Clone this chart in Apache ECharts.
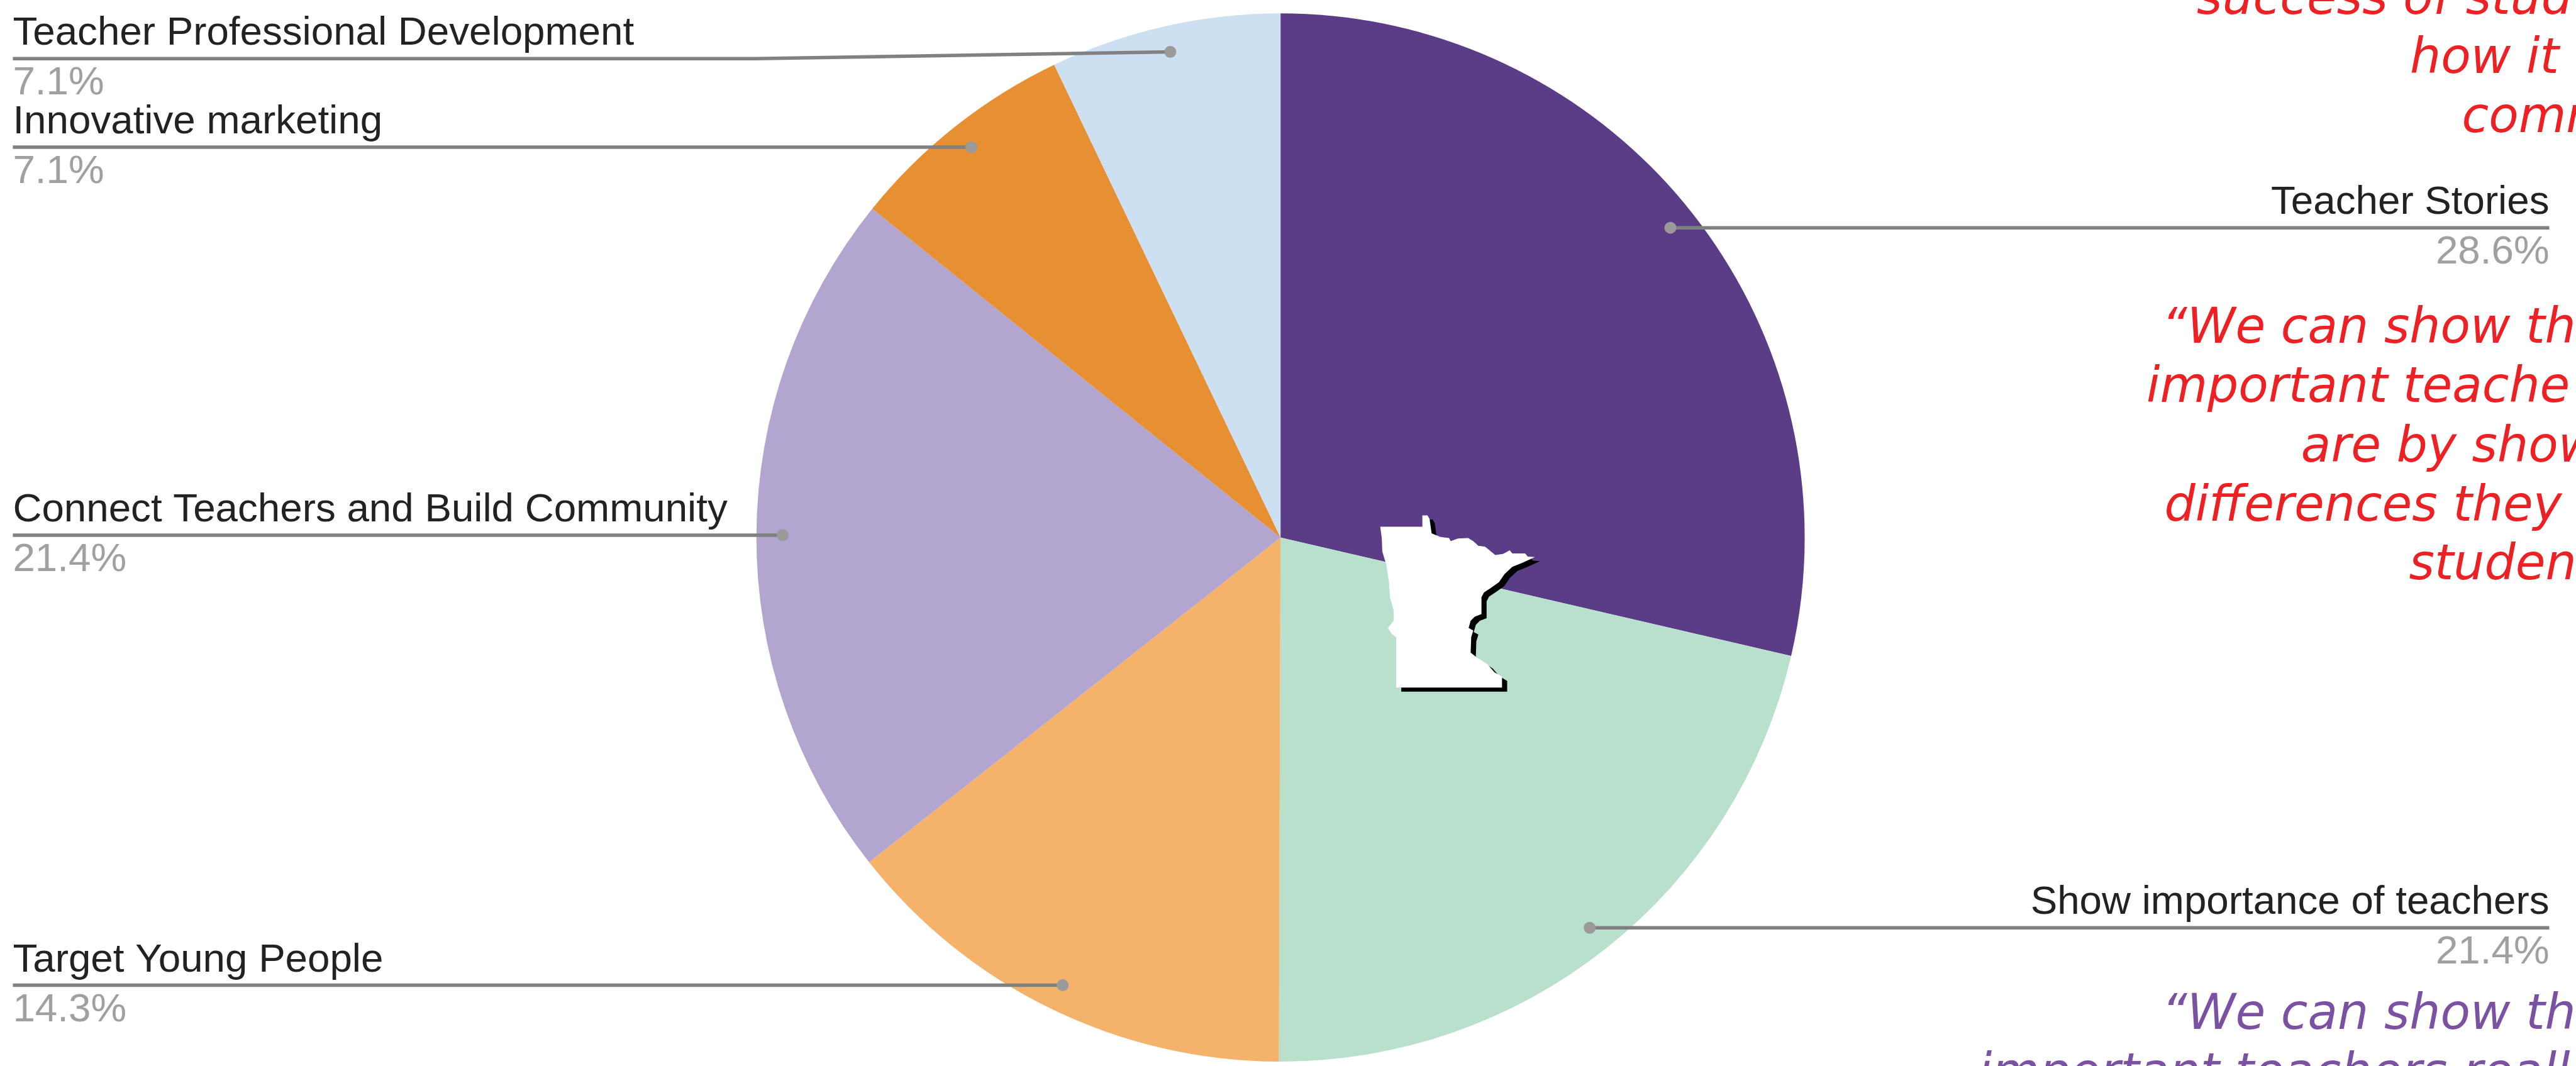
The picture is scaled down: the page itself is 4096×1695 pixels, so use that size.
<!DOCTYPE html>
<html>
<head>
<meta charset="utf-8">
<title>Pie</title>
<style>
  html, body { margin: 0; padding: 0; background: #fff; overflow: hidden; }
  #chart { width: 4096px; height: 1695px; }
</style>
<script src="https://cdn.jsdelivr.net/npm/echarts@6/dist/echarts.min.js"></script>
</head>
<body>
<div id="chart"></div>
<script>
// data, clockwise from 12 o'clock
const categories = [
  "Teacher Stories",
  "Show importance of teachers",
  "Target Young People",
  "Connect Teachers and Build Community",
  "Innovative marketing",
  "Teacher Professional Development",
];
const shares = [28.6, 21.4, 14.3, 21.4, 7.1, 7.1];
const sliceColors = ["#5b3d87", "#b8e0cd", "#f5b26b", "#b2a5d0", "#e69033", "#cde0f1"];

// quotes beside the chart, cut off by the page edge as in the source
const redQuote = [
  "success of stud", "how it i", "comm",
  "\u201CWe can show th", "important teache", "are by show", "differences they", "studen",
];
const purpleQuote = ["\u201CWe can show th", "important teachers reall"];

// everything below is measured on the 5013 wide reference, S scales it down
const S = 4096 / 5013;
const cx = 2492 * S, cy = 1046 * S, R = 1020 * S;
const dotRadius = 0.95 * R;
const leftX = 25 * S, rightX = 4961 * S;

const total = shares.reduce((a, b) => a + b, 0);
// dot sits on each slice's mid angle
let sum = 0;
const dots = shares.map((v) => {
  const a = ((sum + v / 2) / total) * Math.PI * 2;
  sum += v;
  return [cx + dotRadius * Math.sin(a), cy - dotRadius * Math.cos(a)];
});

// the top label had to bend to stay clear of the one under it
const bends = { 5: [1470 * S, 114 * S] };
const labelY = dots.map((d, i) => (bends[i] ? bends[i][1] : d[1]));
const labelX = dots.map((d) => (d[0] < cx ? leftX : rightX));

// Minnesota outline, traced in px on the reference
const mnOutline = [
  [2686,1025],[2768,1025],[2768,1003],[2778,1003],[2782,1010],[2786,1038],[2803,1045],[2820,1047],[2823,1053],
  [2837,1048],[2857,1047],[2867,1053],[2877,1062],[2890,1064],[2910,1080],[2925,1078],[2938,1071],[2943,1077],
  [2968,1077],[2973,1083],[2987,1084],[2963,1095],[2943,1103],[2928,1117],[2917,1133],[2900,1145],[2888,1153],
  [2883,1162],[2883,1195],[2870,1200],[2862,1208],[2858,1222],[2867,1227],[2863,1240],[2862,1270],[2872,1278],
  [2883,1285],[2895,1293],[2908,1308],[2923,1317],[2923,1338],[2717,1338],[2717,1240],[2708,1233],[2701,1222],
  [2712,1208],[2712,1187],[2705,1163],[2703,1133],[2698,1100],[2690,1073],[2689,1047],
];

const toPx = (pts, dx, dy) => pts.map((p) => [(p[0] + dx) * S, (p[1] + dy) * S]);

const quoteSize = 95 * S;
function quoteText(text, x, baseline, fill) {
  return {
    type: "text",
    silent: true,
    z: 110,
    style: {
      x: x * S,
      y: baseline * S - 0.346 * quoteSize,
      text: text,
      fill: fill,
      font: "italic 400 " + quoteSize + "px 'DejaVu Sans'",
      textAlign: "left",
      textVerticalAlign: "middle",
    },
  };
}

const redX = [4275, 4690, 4791, 4207, 4177, 4478, 4212, 4688];
const redY = [35, 150, 265, 675, 790, 906, 1021, 1136];
const purpleX = [4207, 3850];
const purpleY = [2010, 2125];

const chart = echarts.init(document.getElementById("chart"), null, { renderer: "canvas" });
chart.setOption({
  backgroundColor: "#fff",
  animation: false,
  series: [
    {
      type: "pie",
      center: [cx, cy],
      radius: [0, R],
      startAngle: 90,
      clockwise: true,
      avoidLabelOverlap: false,
      silent: true,
      data: categories.map((name, i) => ({
        name: name,
        value: shares[i],
        itemStyle: { color: sliceColors[i] },
        label: { align: dots[i][0] < cx ? "left" : "right" },
      })),
      label: {
        show: true,
        position: "outside",
        fontFamily: "Liberation Sans",
        formatter: (p) => "{name|" + p.name + "}\n{pct|" + p.value.toFixed(1) + "%}",
        rich: {
          name: { fontFamily: "Liberation Sans", fontSize: 63.7, lineHeight: 79, color: "#222222" },
          pct: { fontFamily: "Liberation Sans", fontSize: 63.7, lineHeight: 79, color: "#a0a0a0" },
        },
      },
      labelLine: { show: false },
      labelLayout: (p) => ({
        x: labelX[p.dataIndex],
        y: labelY[p.dataIndex],
        align: dots[p.dataIndex][0] < cx ? "left" : "right",
        verticalAlign: "middle",
      }),
    },
  ],
  graphic: [
    // leader lines run over the slices, so they go on top of the pie
    ...dots.map((d, i) => ({
      type: "polyline",
      silent: true,
      z: 99,
      shape: { points: bends[i] ? [d, bends[i], [labelX[i], labelY[i]]] : [d, [labelX[i], labelY[i]]] },
      style: { stroke: "#808080", lineWidth: 5.5, fill: null },
    })),
    ...dots.map((d) => ({
      type: "circle",
      silent: true,
      z: 100,
      shape: { cx: d[0], cy: d[1], r: 9.5 },
      style: { fill: "#9a9a9a" },
    })),
    {
      type: "polygon", silent: true, z: 101,
      shape: { points: toPx(mnOutline, 10, 8) },
      style: { fill: "#000" },
    },
    {
      type: "polygon", silent: true, z: 102,
      shape: { points: toPx(mnOutline, 0, 0) },
      style: { fill: "#fff" },
    },
    ...redQuote.map((t, i) => quoteText(t, redX[i], redY[i], "#ed2024")),
    ...purpleQuote.map((t, i) => quoteText(t, purpleX[i], purpleY[i], "#7b52a3")),
  ],
});
</script>
</body>
</html>
